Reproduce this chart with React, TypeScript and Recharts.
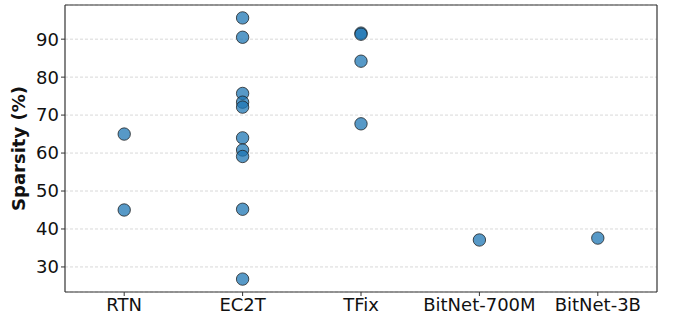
import React from 'react'
import {
  ScatterChart,
  Scatter,
  XAxis,
  YAxis,
  CartesianGrid,
  ReferenceLine,
} from 'recharts'

const methods = ['RTN', 'EC2T', 'TFix', 'BitNet-700M', 'BitNet-3B']

const rtnValues = [65.0, 45.0]
const ec2tValues = [95.6, 90.5, 75.7, 73.4, 72.1, 64.0, 60.8, 59.1, 45.2, 26.8]
const tfixValues = [91.6, 91.3, 84.2, 67.7]
const bitnet700mValues = [37.1]
const bitnet3bValues = [37.6]

const yTicks = [30, 40, 50, 60, 70, 80, 90]
const yDomain: [number, number] = [23.4, 99]
const xDomain: [number, number] = [-0.5, 4.5]

const groups = [rtnValues, ec2tValues, tfixValues, bitnet700mValues, bitnet3bValues]

const points = groups.flatMap((vals, i) => vals.map(v => ({ x: i, y: v })))

const font = "'DejaVu Sans', sans-serif"
const frame = '#333'

function Dot(props: any) {
  const { cx, cy } = props
  return (
    <circle
      cx={cx}
      cy={cy}
      r={6.2}
      fill="#1f77b4"
      fillOpacity={0.75}
      stroke="#1a1a1a"
      strokeOpacity={0.75}
      strokeWidth={1}
    />
  )
}

// rotated, bold axis title sitting left of the tick labels
function YTitle(props: any) {
  const { viewBox } = props
  const cy = viewBox.y + viewBox.height / 2
  return (
    <text
      x={18}
      y={cy}
      transform={`rotate(-90, 18, ${cy})`}
      textAnchor="middle"
      dominantBaseline="central"
      fontSize={18}
      fontWeight="bold"
      fontFamily={font}
      fill="#111"
    >
      Sparsity (%)
    </text>
  )
}

export default function App() {
  return (
    <div style={{ position: 'absolute', left: 0, top: 0, width: 673, height: 320, background: '#fff' }}>
      <ScatterChart
        width={673}
        height={320}
        margin={{ top: 5, right: 16, bottom: 0, left: 20 }}
      >
        <CartesianGrid
          horizontal
          vertical={false}
          stroke="#cfcfcf"
          strokeDasharray="3 2"
          strokeWidth={0.8}
        />
        <XAxis
          type="number"
          dataKey="x"
          domain={xDomain}
          ticks={[0, 1, 2, 3, 4]}
          allowDataOverflow
          tickFormatter={(v: number) => methods[v]}
          height={28}
          axisLine={{ stroke: frame, strokeWidth: 1.2 }}
          tickLine={{ stroke: frame }}
          tickSize={4}
          tick={{ fill: '#111', fontSize: 18, fontFamily: font }}
          interval={0}
        />
        <YAxis
          type="number"
          dataKey="y"
          domain={yDomain}
          ticks={yTicks}
          allowDataOverflow
          width={45}
          axisLine={{ stroke: frame, strokeWidth: 1.2 }}
          tickLine={{ stroke: frame }}
          tickSize={4}
          tick={{ fill: '#111', fontSize: 18, fontFamily: font }}
          label={<YTitle />}
        />
        <ReferenceLine y={yDomain[1]} stroke={frame} strokeWidth={1.2} />
        <ReferenceLine x={xDomain[1]} stroke={frame} strokeWidth={1.2} />
        <Scatter data={points} shape={<Dot />} isAnimationActive={false} />
      </ScatterChart>
    </div>
  )
}
